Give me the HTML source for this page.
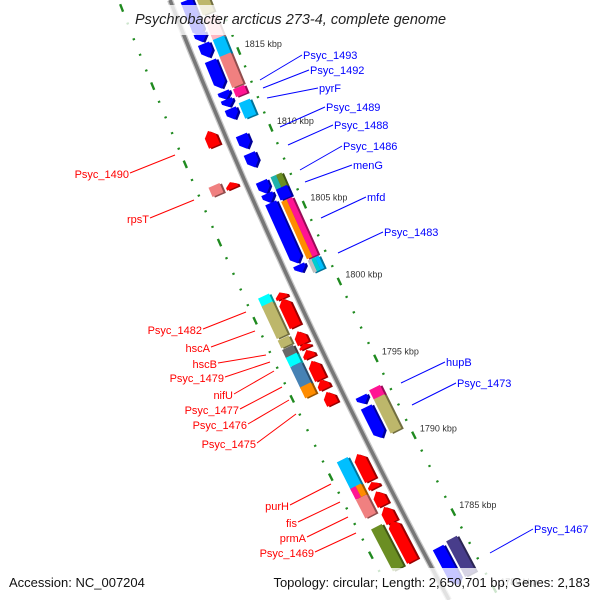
<!DOCTYPE html>
<html><head><meta charset="utf-8">
<style>
html,body{margin:0;padding:0;background:#fff;width:600px;height:600px;overflow:hidden;}
svg{display:block;overflow:hidden;font-family:"Liberation Sans","DejaVu Sans",sans-serif;}
</style></head>
<body>
<svg id="map" width="600" height="600" viewBox="0 0 600 600" xmlns="http://www.w3.org/2000/svg">
<defs><clipPath id="frame"><rect x="0" y="0" width="600" height="600"/></clipPath></defs>
<g clip-path="url(#frame)">
<g id="dots"></g>
<path id="backbone-shadow" fill="none" stroke="#c8c8c8" stroke-width="6"></path>
<path id="backbone" fill="none" stroke="#777" stroke-width="3.5"></path>
<g id="genes"></g>
<g id="labels"></g>
<rect x="126" y="5" width="346" height="30" fill="#fff" fill-opacity="0.78"></rect>
<text x="135" y="24" font-size="14.5" font-style="italic" fill="#222">Psychrobacter arcticus 273-4, complete genome</text>
<rect x="0" y="568" width="600" height="32" fill="#fff" fill-opacity="0.78"></rect>
<text x="9" y="587" font-size="13" fill="#111">Accession: NC_007204</text>
<text x="590" y="587" font-size="13" fill="#111" text-anchor="end">Topology: circular; Length: 2,650,701 bp; Genes: 2,183</text>
</g>
</svg>
<script>
// ---- data ----
const tickKbp = [1815,1810,1805,1800,1795,1790,1785,1780];
const tickLabels = ["1815 kbp","1810 kbp","1805 kbp","1800 kbp","1795 kbp","1790 kbp","1785 kbp","1780 kbp"];
// forward CDS (blue), kbp start/end
const fwdStart = [1819.0,1816.9,1816.2,1815.1,1813.1,1812.6,1812.0,1810.3,1809.1,1807.3,1806.5,1805.9,1801.9,1793.4,1792.7,1783.6];
const fwdEnd   = [1816.7,1816.3,1815.3,1813.3,1812.6,1812.1,1811.3,1809.4,1808.2,1806.5,1805.9,1802.0,1801.4,1792.9,1790.7,1781.2];
// forward COG track
const fcogStart = [1818.9,1817.6,1816.2,1815.1,1813.0,1812.1,1807.3,1806.5,1805.7,1801.9,1793.5,1792.9,1783.7];
const fcogEnd   = [1817.8,1816.2,1815.1,1813.1,1812.5,1811.1,1806.5,1805.8,1802.0,1801.1,1792.9,1790.7,1781.4];
const fcogColor = ["#bdb76b","#ffb6c1","#00bfff","#f08080","#ff1493","#00bfff","#20b2aa|#6b8e23","#0000ff","#ff8c00|#ff1493","#c0c0c0|#00ced1|#00bfff","#ff1493","#bdb76b","#483d8b"];
// reverse CDS (red)
const revStart = [1811.3,1808.0,1800.9,1800.5,1798.4,1797.6,1797.2,1796.5,1795.3,1794.5,1790.5,1788.7,1788.1,1787.1,1786.2];
const revEnd   = [1810.3,1807.6,1800.5,1798.7,1797.6,1797.3,1796.7,1795.3,1794.7,1793.7,1788.8,1788.3,1787.2,1786.1,1783.6];
// reverse COG track
const rcogStart = [1808.2,1801.1,1800.6,1798.4,1797.8,1797.3,1796.7,1795.4,1790.6,1788.9,1788.2,1786.3];
const rcogEnd   = [1807.6,1800.4,1798.5,1797.9,1797.2,1796.7,1795.3,1794.7,1788.7,1788.2,1787.0,1783.6];
const rcogColor = ["#f08080","#00ffff","#bdb76b","#bdb76b","#696969","#00ffff","#4682b4","#ff8c00","#00bfff","#ff1493|#ff8c00","#f08080","#6b8e23"];
// labels
const fwdLabels = ["Psyc_1493","Psyc_1492","pyrF","Psyc_1489","Psyc_1488","Psyc_1486","menG","mfd","Psyc_1483","hupB","Psyc_1473","Psyc_1467"];
const fwdLabelPos = [[260,80,302,55],[263,88,309,70],[267,98,318,88],[280,127,325,107],[288,145,333,125],[300,170,342,146],[305,182,352,165],[321,218,366,197],[338,253,383,232],[401,383,445,362],[412,405,456,383],[490,553,533,529]];
const revLabels = ["Psyc_1490","rpsT","Psyc_1482","hscA","hscB","Psyc_1479","nifU","Psyc_1477","Psyc_1476","Psyc_1475","purH","fis","prmA","Psyc_1469"];
const revLabelPos = [[175,155,130,173],[194,200,150,218],[246,312,203,329],[255,331,211,347],[266,355,218,363],[270,362,225,377],[274,371,234,394],[282,387,240,409],[289,400,248,424],[296,414,257,443],[331,484,290,505],[340,502,298,522],[348,517,307,537],[356,533,315,552]];

// ---- axis functions ----
const NS = "http://www.w3.org/2000/svg";
function Y(k){ return 68 + (1815 - k) * 15.5; }
function X(y){ return 170 + 0.3907*y + 0.000124*y*y; }
function ang(y){ return Math.atan(0.3907 + 0.000248*y); }
function pt(k, d){ const y = Y(k), t = ang(y); return [X(y) + d*Math.cos(t), y - d*Math.sin(t)]; }
function mk(tag, attrs, parent){ const e = document.createElementNS(NS, tag); for (const a in attrs) e.setAttribute(a, attrs[a]); parent.appendChild(e); return e; }

// backbone
let dpath = "";
for (let y = 0; y <= 600; y += 10) dpath += (y === 0 ? "M" : "L") + X(y).toFixed(1) + "," + y;
document.getElementById("backbone").setAttribute("d", dpath);
document.getElementById("backbone-shadow").setAttribute("d", dpath);

// ticks and dots
const dots = document.getElementById("dots");
for (let k = 1822; k >= 1776; k--) {
  [45, -48].forEach(d => {
    const [x, y] = pt(k, d);
    if (y < 5 || y > 595 || x < 2 || x > 598) return;
    const t = ang(Y(k)) * 180 / Math.PI;
    const major = (k % 5 === 0);
    const r = mk("rect", {x: -1.2, y: major ? -4 : -1, width: 2.4, height: major ? 8 : 2, fill: "#1f8a1f",
      transform: `translate(${x.toFixed(1)},${y.toFixed(1)}) rotate(${(-t).toFixed(1)})`}, dots);
    
    
  });
}
tickKbp.forEach((k, i) => {
  const [x, y] = pt(k, 45);
  const tx = mk("text", {x: (x + 6).toFixed(1), y: (y - 4).toFixed(1), "font-size": 9, fill: "#333"}, dots);
  tx.textContent = tickLabels[i];
  
  
});

// genes
const genes = document.getElementById("genes");
function shade(c){
  const n = parseInt(c.slice(1), 16);
  const r = Math.round(((n >> 16) & 255) * 0.6), g = Math.round(((n >> 8) & 255) * 0.6), b = Math.round((n & 255) * 0.6);
  return "rgb(" + r + "," + g + "," + b + ")";
}
function drawGene(k1, k2, d, w, colors, arrow, name){
  const kc = (k1 + k2) / 2;
  const [cx, cy] = pt(kc, d);
  const t = ang(Y(kc));
  const L = Math.abs(Y(k1) - Y(k2)) / Math.cos(t);
  const g = mk("g", {transform: `translate(${cx.toFixed(1)},${cy.toFixed(1)}) rotate(${(-t*180/Math.PI).toFixed(2)})`}, genes);
  
  
  const h = Math.min(6, L * 0.6), hw = w / 2, hl = L / 2;
  let pts;
  if (arrow === "down") pts = [[-hw,-hl],[hw,-hl],[hw,hl-h],[0,hl],[-hw,hl-h]];
  else if (arrow === "up") pts = [[0,-hl],[hw,-hl+h],[hw,hl],[-hw,hl],[-hw,-hl+h]];
  else pts = [[-hw,-hl],[hw,-hl],[hw,hl],[-hw,hl]];
  const cols = colors.split("|");
  const ps = pts.map(p => (p[0]+2) + "," + (p[1]+1.5)).join(" ");
  mk("polygon", {points: ps, fill: shade(cols[cols.length-1])}, g);
  if (cols.length === 1) {
    mk("polygon", {points: pts.map(p => p.join(",")).join(" "), fill: cols[0]}, g);
  } else {
    const sw = w / cols.length;
    cols.forEach((c, i) => mk("rect", {x: -hw + i*sw, y: -hl, width: sw, height: L, fill: c}, g));
  }
}
fwdStart.forEach((s, i) => drawGene(s, fwdEnd[i], 15, 12, "#0000ff", "down", "forward-gene"));
fcogStart.forEach((s, i) => drawGene(s, fcogEnd[i], 31, 12, fcogColor[i], "none", "forward-cog"));
revStart.forEach((s, i) => drawGene(s, revEnd[i], -14, 12, "#ff0000", "up", "reverse-gene"));
rcogStart.forEach((s, i) => drawGene(s, rcogEnd[i], -30, 12, rcogColor[i], "none", "reverse-cog"));

// labels
const labels = document.getElementById("labels");
fwdLabels.forEach((n, i) => {
  const p = fwdLabelPos[i];
  const l = mk("line", {x1: p[0], y1: p[1], x2: p[2], y2: p[3], stroke: "#0000ff", "stroke-width": 1}, labels);
  
  
  const t = mk("text", {x: p[2] + 1, y: p[3] + 4, "font-size": 11, fill: "#0000ff"}, labels);
  t.textContent = n;
  
  
});
revLabels.forEach((n, i) => {
  const p = revLabelPos[i];
  const l = mk("line", {x1: p[0], y1: p[1], x2: p[2], y2: p[3], stroke: "#ff0000", "stroke-width": 1}, labels);
  
  
  const t = mk("text", {x: p[2] - 1, y: p[3] + 5, "font-size": 11, fill: "#ff0000", "text-anchor": "end"}, labels);
  t.textContent = n;
  
  
});
</script>
</body></html>
